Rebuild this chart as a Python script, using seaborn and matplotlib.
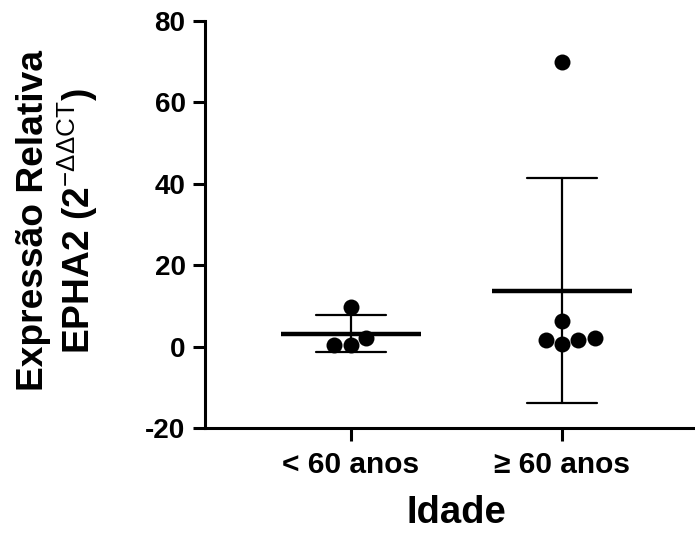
import numpy as np
import pandas as pd
import seaborn as sns
import matplotlib.pyplot as plt

#--> dados
grupos = ['< 60 anos', '≥ 60 anos']
menos_60 = [9.8, 2.2, 0.3, 0.5]
mais_60 = [70.0, 6.4, 0.7, 2.2, 1.5, 1.7]
y_ticks = [-20, 0, 20, 40, 60, 80]

df = pd.DataFrame({
    'Idade': [grupos[0]] * len(menos_60) + [grupos[1]] * len(mais_60),
    'valor': menos_60 + mais_60,
})

#--> estilo
sns.set_theme(style='ticks')
plt.rcParams['font.family'] = ['Liberation Sans', 'DejaVu Sans']
plt.rcParams['mathtext.fontset'] = 'custom'
plt.rcParams['mathtext.rm'] = 'Liberation Sans'
for k in ['text.color', 'axes.labelcolor', 'xtick.color', 'ytick.color', 'axes.edgecolor']:
    plt.rcParams[k] = 'black'

fig = plt.figure(figsize=(6.95, 5.36), dpi=100)
ax = fig.add_axes([0.295, 0.2015, 0.705, 0.7595])

# pontos individuais
sns.swarmplot(data=df, x='Idade', y='valor', order=grupos, color='black',
              size=11.5, ax=ax, zorder=3)

# media +- DP
sns.pointplot(data=df, x='Idade', y='valor', order=grupos, errorbar='sd',
              capsize=0.33, color='black', linestyle='none', marker='',
              err_kws={'linewidth': 1.6}, ax=ax)
sns.pointplot(data=df, x='Idade', y='valor', order=grupos, errorbar=None,
              color='black', linestyle='none', marker='_', markersize=101,
              markeredgewidth=3.2, ax=ax)

ax.set_ylim(-20, 80)
ax.set_xlim(-0.692, 1.63)
ax.set_yticks(y_ticks)
ax.set_yticklabels([str(t) for t in y_ticks], fontsize=20, fontweight='bold')
ax.set_xticks(range(len(grupos)))
ax.set_xticklabels(grupos, fontsize=21.5, fontweight='bold')

for side in ['top', 'right']:
    ax.spines[side].set_visible(False)
for side in ['left', 'bottom']:
    ax.spines[side].set_linewidth(2.2)
ax.tick_params(axis='both', width=2.2, length=9, color='black')
ax.tick_params(axis='y', pad=5)
ax.tick_params(axis='x', pad=7.5)

ax.set_xlabel('Idade', fontsize=27.5, fontweight='bold')
ax.set_ylabel('Expressão Relativa\nEPHA2 (2$^{\\mathrm{-ΔΔCT}}$)',
              fontsize=26.7, fontweight='bold', linespacing=1.1)
ax.xaxis.set_label_coords(0.514, -0.165)
ax.yaxis.set_label_coords(-0.215, 0.509)

fig.savefig('out.png', dpi=100)
